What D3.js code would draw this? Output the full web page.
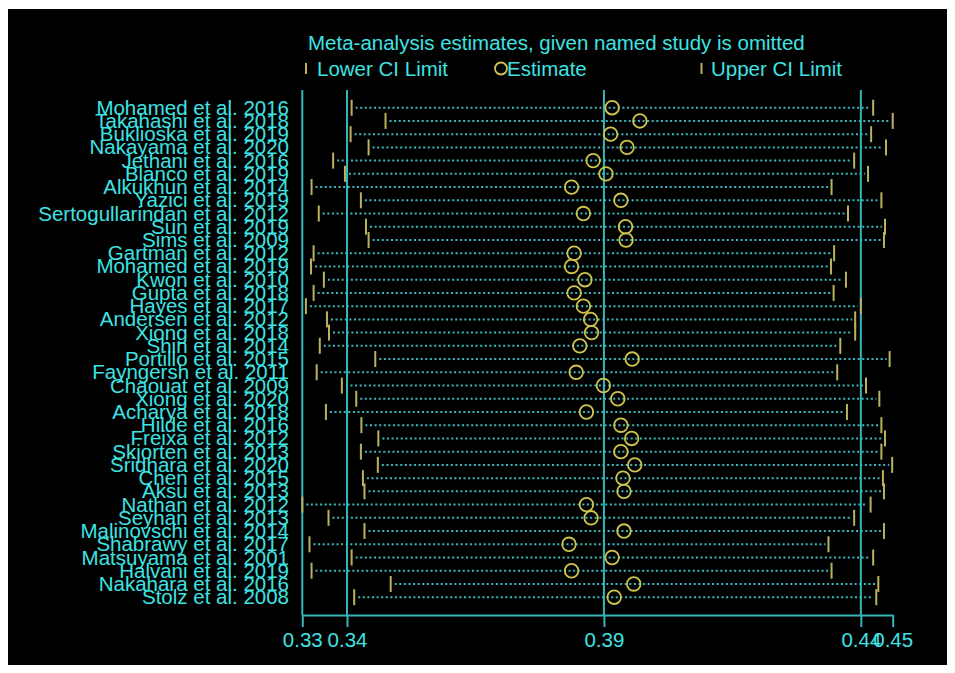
<!DOCTYPE html>
<html><head><meta charset="utf-8">
<script src="https://cdn.jsdelivr.net/npm/d3@7"></script>
<style>html,body{margin:0;padding:0;background:#fff;} svg{display:block}</style>
</head><body>
<svg id="chart" width="955" height="673"></svg>
<script>
const studies = [
  "Mohamed et al. 2016","Takahashi et al. 2018","Buklioska et al. 2019","Nakayama et al. 2020",
  "Jethani et al. 2016","Blanco et al. 2019","Alkukhun et al. 2014","Yazici et al. 2019",
  "Sertogullarindan et al. 2012","Sun et al. 2019","Sims et al. 2009","Gartman et al. 2012",
  "Mohamed et al. 2019","Kwon et al. 2010","Gupta et al. 2018","Hayes et al. 2017",
  "Andersen et al. 2012","Xiong et al. 2018","Shin et al. 2014","Portillo et al. 2015",
  "Fayngersh et al. 2011","Chaouat et al. 2009","Xiong et al. 2020","Acharya et al. 2018",
  "Hilde et al. 2016","Freixa et al. 2012","Skjorten et al. 2013","Sridhara et al. 2020",
  "Chen et al. 2015","Aksu et al. 2013","Nathan et al. 2012","Seyhan et al. 2013",
  "Malinovschi et al. 2014","Shabrawy et al. 2017","Matsuyama et al. 2001","Halvani et al. 2019",
  "Nakahara et al. 2016","Stolz et al. 2008"
];
const lowerCI = [
  0.3409,0.3475,0.3407,0.3442,0.3373,0.3396,0.3331,0.3427,0.3345,0.3437,0.3442,0.3335,
  0.3330,0.3355,0.3335,0.3320,0.3361,0.3365,0.3347,0.3455,0.3341,0.3390,0.3418,0.3359,
  0.3428,0.3461,0.3427,0.3460,0.3431,0.3434,0.3313,0.3364,0.3434,0.3327,0.3409,0.3331,
  0.3485,0.3414
];
const estimate = [
  0.3916,0.3970,0.3913,0.3945,0.3879,0.3904,0.3837,0.3933,0.3860,0.3942,0.3943,0.3842,
  0.3837,0.3863,0.3842,0.3860,0.3874,0.3876,0.3853,0.3955,0.3846,0.3899,0.3927,0.3866,
  0.3933,0.3954,0.3933,0.3960,0.3937,0.3939,0.3866,0.3875,0.3939,0.3832,0.3916,0.3837,
  0.3958,0.3920
];
const upperCI = [
  0.4424,0.4462,0.4420,0.4449,0.4387,0.4414,0.4343,0.4440,0.4375,0.4447,0.4445,0.4348,
  0.4342,0.4371,0.4347,0.4400,0.4389,0.4389,0.4360,0.4456,0.4354,0.4410,0.4436,0.4373,
  0.4440,0.4447,0.4440,0.4461,0.4443,0.4445,0.4419,0.4387,0.4445,0.4337,0.4424,0.4343,
  0.4434,0.4430
];
const overallCI = [0.340, 0.390, 0.440]; // lower, estimate, upper
const titleText = "Meta-analysis estimates, given named study is omitted";
const legendLabels = ["Lower CI Limit", "Estimate", "Upper CI Limit"];

const TEXT = "#3fe3e3", LINE = "#35b6ba", DOT = "#3bb8be", CIRC = "#cdc54c", TICK = "#bab35c";
const FONT = "'Liberation Sans', Arial, sans-serif";

const svg = d3.select("#chart");
svg.append("rect").attr("x", 8).attr("y", 9).attr("width", 939).attr("height", 656).attr("fill", "#000");

const minL = d3.min(lowerCI), maxU = d3.max(upperCI);
const x = d3.scaleLinear().domain([minL, maxU]).range([302.3, 892.7]);
const y = d3.scalePoint().domain(studies).range([107.7, 597.2]);
const axisY = 615;

// reference lines
const refVals = [minL, overallCI[0], overallCI[1], overallCI[2]];
svg.append("g").selectAll("line").data(refVals).join("line")
  .attr("x1", d => x(d)).attr("x2", d => x(d))
  .attr("y1", 90).attr("y2", axisY)
  .attr("stroke", LINE).attr("stroke-width", 2);

// axis
const axis = d3.axisBottom(x)
  .tickValues([minL, overallCI[0], overallCI[1], overallCI[2], maxU])
  .tickFormat(d3.format(".2f")).tickSize(12).tickSizeOuter(0).tickPadding(5);
const ag = svg.append("g").attr("transform", `translate(0,${axisY})`).call(axis);
ag.select(".domain").attr("stroke", LINE).attr("stroke-width", 2);
ag.selectAll(".tick line").attr("stroke", LINE).attr("stroke-width", 2);
ag.selectAll(".tick text").attr("fill", TEXT).attr("font-size", 20.5).attr("font-family", FONT);

const rows = studies.map((s, i) => ({s, l: lowerCI[i], e: estimate[i], u: upperCI[i]}));
const rg = svg.append("g");
// dotted lines
rg.selectAll("line.dot").data(rows).join("line").attr("class", "dot")
  .attr("x1", d => x(d.l) + 4).attr("x2", d => x(d.u) - 3)
  .attr("y1", d => y(d.s)).attr("y2", d => y(d.s))
  .attr("stroke", DOT).attr("stroke-width", 2).attr("stroke-dasharray", "2,2.6");
// CI ticks
rg.selectAll("line.lo").data(rows).join("line").attr("class", "lo")
  .attr("x1", d => x(d.l)).attr("x2", d => x(d.l))
  .attr("y1", d => y(d.s) - 8).attr("y2", d => y(d.s) + 8)
  .attr("stroke", TICK).attr("stroke-width", 2);
rg.selectAll("line.up").data(rows).join("line").attr("class", "up")
  .attr("x1", d => x(d.u)).attr("x2", d => x(d.u))
  .attr("y1", d => y(d.s) - 8).attr("y2", d => y(d.s) + 8)
  .attr("stroke", TICK).attr("stroke-width", 2);
// estimates
rg.selectAll("circle").data(rows).join("circle")
  .attr("cx", d => x(d.e)).attr("cy", d => y(d.s)).attr("r", 6.8)
  .attr("fill", "none").attr("stroke", CIRC).attr("stroke-width", 1.8);
// labels
rg.selectAll("text").data(rows).join("text")
  .attr("x", 289).attr("y", d => y(d.s) + 7)
  .attr("text-anchor", "end").attr("fill", TEXT)
  .attr("font-size", 20.5).attr("font-family", FONT).text(d => d.s);

// title
svg.append("text").attr("x", 308).attr("y", 49.5).attr("fill", TEXT)
  .attr("font-size", 20.5).attr("font-family", FONT).text(titleText);

// legend
const lg = svg.append("g");
lg.append("line").attr("x1", 306).attr("x2", 306).attr("y1", 63).attr("y2", 74).attr("stroke", TICK).attr("stroke-width", 2);
lg.append("text").attr("x", 317).attr("y", 75.5).attr("fill", TEXT).attr("font-size", 20.5).attr("font-family", FONT).text(legendLabels[0]);
lg.append("circle").attr("cx", 501).attr("cy", 68.5).attr("r", 6).attr("fill", "none").attr("stroke", CIRC).attr("stroke-width", 1.8);
lg.append("text").attr("x", 507).attr("y", 75.5).attr("fill", TEXT).attr("font-size", 20.5).attr("font-family", FONT).text(legendLabels[1]);
lg.append("line").attr("x1", 701.5).attr("x2", 701.5).attr("y1", 63).attr("y2", 74).attr("stroke", TICK).attr("stroke-width", 2);
lg.append("text").attr("x", 711).attr("y", 75.5).attr("fill", TEXT).attr("font-size", 20.5).attr("font-family", FONT).text(legendLabels[2]);
</script>
</body></html>
